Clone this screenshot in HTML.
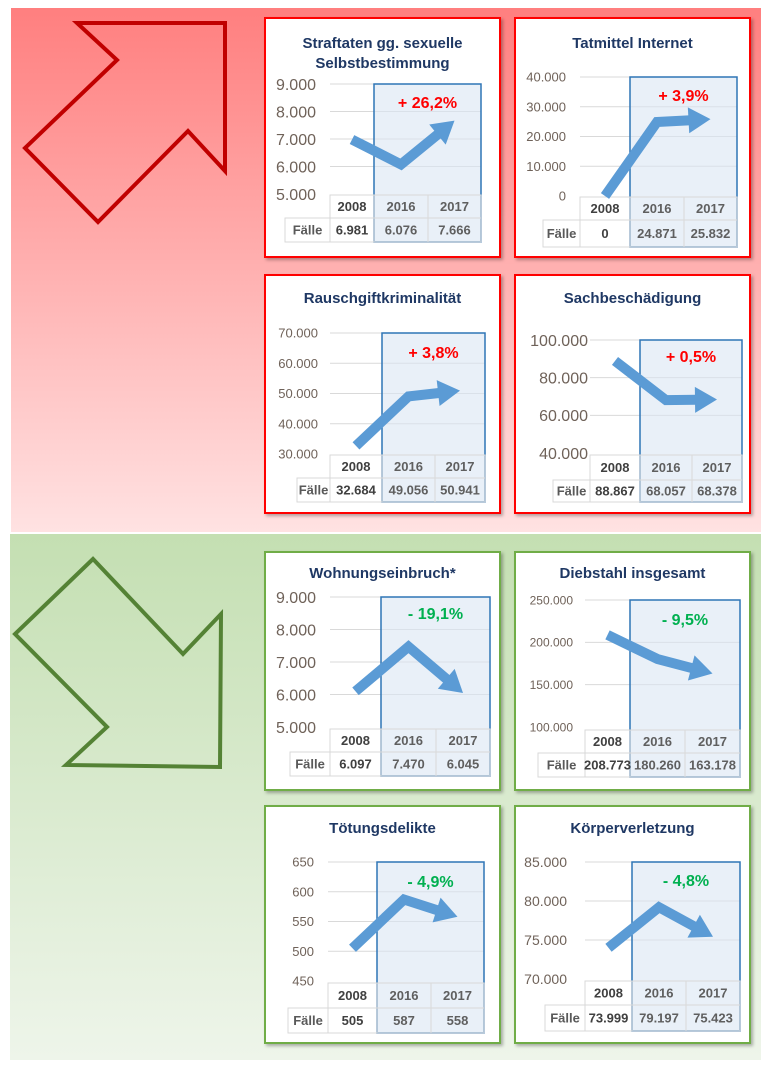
<!DOCTYPE html>
<html><head><meta charset="utf-8"><style>
html,body{margin:0;padding:0;background:#fff;}
svg{display:block;font-family:"Liberation Sans",sans-serif;}
</style></head><body>
<svg id="c" width="769" height="1067" viewBox="0 0 769 1067">
<defs>
<linearGradient id="gr" x1="0" y1="0" x2="0" y2="1"><stop offset="0" stop-color="#ff7f7f"/><stop offset="1" stop-color="#ffe2e2"/></linearGradient>
<linearGradient id="gg" x1="0" y1="0" x2="0" y2="1"><stop offset="0" stop-color="#c4dfb2"/><stop offset="1" stop-color="#eef5ea"/></linearGradient>
<filter id="sh" x="-5%" y="-5%" width="115%" height="115%"><feDropShadow dx="2" dy="2" stdDeviation="1.5" flood-color="#000" flood-opacity="0.3"/></filter>
</defs>
<rect x="11" y="8" width="750" height="524" fill="url(#gr)"/>
<rect x="10" y="534" width="751" height="526" fill="url(#gg)"/>
<polygon points="77,23 225,23 225,171 188,131 98,222 25,148 117,60" fill="none" stroke="#c00000" stroke-width="4"/>
<polygon points="93,559 15,634 107,727 66,765 220,767 221,614 183,654" fill="none" stroke="#548235" stroke-width="4"/>
<g id="panels"></g>
</svg>
<script>
const years = ['2008','2016','2017'];
const values1 = [6981, 6076, 7666];
const values2 = [0, 24871, 25832];
const values3 = [32684, 49056, 50941];
const values4 = [88867, 68057, 68378];
const values5 = [6097, 7470, 6045];
const values6 = [208773, 180260, 163178];
const values7 = [505, 587, 558];
const values8 = [73999, 79197, 75423];
const ticks1 = [5000, 6000, 7000, 8000, 9000];
const ticks2 = [0, 10000, 20000, 30000, 40000];
const ticks3 = [30000, 40000, 50000, 60000, 70000];
const ticks4 = [40000, 60000, 80000, 100000];
const ticks5 = [5000, 6000, 7000, 8000, 9000];
const ticks6 = [100000, 150000, 200000, 250000];
const ticks7 = [450, 500, 550, 600, 650];
const ticks8 = [70000, 75000, 80000, 85000];
const titles = [['Straftaten gg. sexuelle','Selbstbestimmung'],['Tatmittel Internet'],['Rauschgiftkriminalität'],['Sachbeschädigung'],['Wohnungseinbruch*'],['Diebstahl insgesamt'],['Tötungsdelikte'],['Körperverletzung']];
const pcts = ['+ 26,2%','+ 3,9%','+ 3,8%','+ 0,5%','- 19,1%','- 9,5%','- 4,9%','- 4,8%'];
const allValues = [values1,values2,values3,values4,values5,values6,values7,values8];
const allTicks = [ticks1,ticks2,ticks3,ticks4,ticks5,ticks6,ticks7,ticks8];

const L = [
 {b:[265,18,235,239],c:'#ff0000',ty:[43,63],top:84,bot:194,lx:316,fs:16,cols:[330,374,428,481],fx:285,rows:[195,218,242],py:102},
 {b:[515,18,235,239],c:'#ff0000',ty:[43],top:77,bot:196,lx:566,fs:13,cols:[580,630,684,737],fx:543,rows:[197,220,247],py:95},
 {b:[265,275,235,238],c:'#ff0000',ty:[298],top:333,bot:454,lx:318,fs:13,cols:[330,382,435,485],fx:297,rows:[455,478,502],py:352},
 {b:[515,275,235,238],c:'#ff0000',ty:[298],top:340,bot:453,lx:588,fs:16,cols:[590,640,692,742],fx:553,rows:[455,480,502],py:356},
 {b:[265,552,235,238],c:'#70ad47',ty:[573],top:597,bot:727,lx:316,fs:16,cols:[330,381,436,490],fx:290,rows:[729,752,776],py:613},
 {b:[515,552,235,238],c:'#70ad47',ty:[573],top:600,bot:727,lx:573,fs:12,cols:[585,630,685,740],fx:538,rows:[730,753,777],py:619},
 {b:[265,806,235,237],c:'#70ad47',ty:[828],top:862,bot:981,lx:314,fs:13,cols:[328,377,431,484],fx:288,rows:[983,1008,1033],py:881},
 {b:[515,806,235,237],c:'#70ad47',ty:[828],top:862,bot:979,lx:567,fs:14,cols:[585,632,686,740],fx:545,rows:[981,1005,1031],py:880}
];
const NS='http://www.w3.org/2000/svg';
function fmt(v){return String(v).replace(/\B(?=(\d{3})+(?!\d))/g,'.');}
function mk(parent,tag,attrs,text){const e=document.createElementNS(NS,tag);for(const k in attrs)e.setAttribute(k,attrs[k]);if(text!==undefined)e.textContent=text;parent.appendChild(e);return e;}
const root=document.getElementById('panels');
L.forEach((p,i)=>{
  const vals=allValues[i], tk=allTicks[i];
  const g=mk(root,'g',{});
  
  
  const card=mk(g,'rect',{x:p.b[0],y:p.b[1],width:p.b[2],height:p.b[3],fill:'#fff',stroke:p.c,'stroke-width':2,filter:'url(#sh)'});
  
  
  const cx=p.b[0]+p.b[2]/2;
  titles[i].forEach((t,j)=>{
    const te=mk(g,'text',{x:cx,y:p.ty[j]+5,'text-anchor':'middle','font-size':15,'font-weight':'bold',fill:'#1f3864'},t);
    
    
  });
  const ymin=tk[0], ymax=tk[tk.length-1];
  const yS=v=>p.bot-(v-ymin)/(ymax-ymin)*(p.bot-p.top);
  const gx1=p.cols[0], gx2=p.cols[3];
  tk.forEach(v=>{
    const y=yS(v);
    if(v!==ymin){const gl=mk(g,'line',{x1:gx1,x2:gx2,y1:y,y2:y,stroke:'#d9d9d9','stroke-width':1});
      
      }
    const tl=mk(g,'text',{x:p.lx,y:y+p.fs*0.36,'text-anchor':'end','font-size':p.fs,fill:'#6f6259'},fmt(v));
    
    
  });
  const hb=mk(g,'rect',{x:p.cols[1],y:p.top,width:p.cols[3]-p.cols[1],height:p.rows[2]-p.top,fill:'#dae6f3','fill-opacity':0.6,stroke:'#2e75b6','stroke-width':1.5});
  
  
  const tg=mk(g,'g',{});
  
  
  const [r0,r1,r2]=p.rows;
  mk(tg,'rect',{x:p.cols[0],y:r0,width:p.cols[3]-p.cols[0],height:r1-r0,fill:'none',stroke:'#d9d9d9'});
  mk(tg,'rect',{x:p.fx,y:r1,width:p.cols[3]-p.fx,height:r2-r1,fill:'none',stroke:'#d9d9d9'});
  for(let k=0;k<3;k++){const x=p.cols[k];mk(tg,'line',{x1:x,x2:x,y1:r0,y2:r2,stroke:'#d9d9d9'});}
  const fl=mk(tg,'text',{x:(p.fx+p.cols[0])/2,y:(r1+r2)/2+4.5,'text-anchor':'middle','font-size':13,'font-weight':'bold',fill:'#595959'},'Fälle');
  
  
  years.forEach((yr,k)=>{
    const mx=(p.cols[k]+p.cols[k+1])/2;
    const col=k===0?'#404040':'#5f5f5f';
    const h=mk(tg,'text',{x:mx,y:(r0+r1)/2+4.5,'text-anchor':'middle','font-size':13,'font-weight':'bold',fill:col},yr);
    
    
    const v=mk(tg,'text',{x:mx,y:(r1+r2)/2+4.5,'text-anchor':'middle','font-size':13,'font-weight':'bold',fill:col},fmt(vals[k]));
    
    
  });
  const pts=vals.map((v,k)=>[(p.cols[k]+p.cols[k+1])/2,yS(v)]);
  const a=pts[1], b=pts[2];
  const dx=b[0]-a[0], dy=b[1]-a[1], len=Math.hypot(dx,dy), ux=dx/len, uy=dy/len;
  const hl=22, hw=13;
  const base=[b[0]-ux*hl,b[1]-uy*hl];
  const line=mk(g,'polyline',{points:[pts[0],pts[1],[base[0]+ux*2,base[1]+uy*2]].map(q=>q.join(',')).join(' '),fill:'none',stroke:'#5b9bd5','stroke-width':10,'stroke-linejoin':'miter'});
  
  
  const head=mk(g,'polygon',{points:[b,[base[0]-uy*hw,base[1]+ux*hw],[base[0]+uy*hw,base[1]-ux*hw]].map(q=>q.join(',')).join(' '),fill:'#5b9bd5'});
  
  
  const pc=mk(g,'text',{x:(p.cols[1]+p.cols[3])/2,y:p.py+6,'text-anchor':'middle','font-size':16,'font-weight':'bold',fill:i<4?'#ff0000':'#00b050'},pcts[i]);
  
  
});
</script>
</body></html>
